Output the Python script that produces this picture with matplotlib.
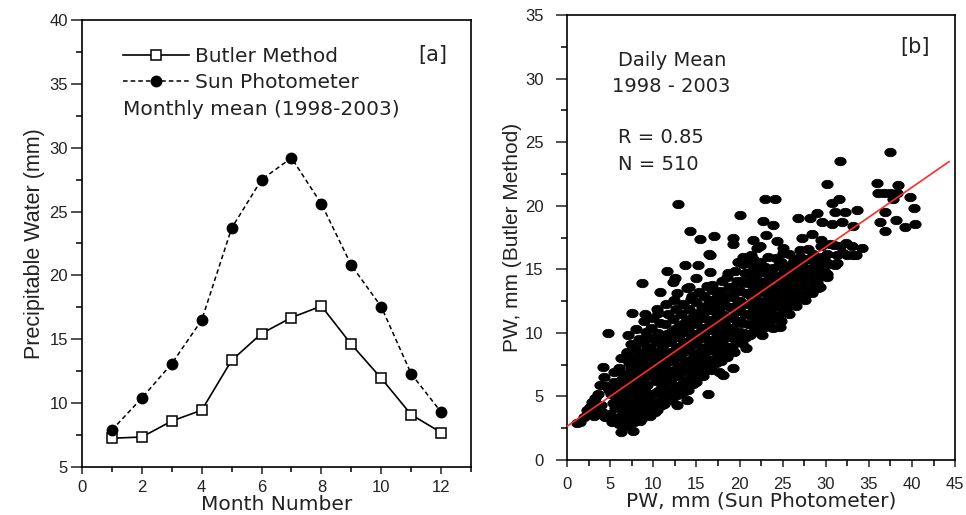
import numpy as np
import matplotlib
matplotlib.use("Agg")
import matplotlib.pyplot as plt
from matplotlib.ticker import MultipleLocator

plt.rcParams['font.family'] = ['Liberation Sans', 'DejaVu Sans']

# ---- panel [a]: monthly means ----
months = [1, 2, 3, 4, 5, 6, 7, 8, 9, 10, 11, 12]
butler_monthly = [7.25, 7.35, 8.6, 9.45, 13.35, 15.45, 16.7, 17.6, 14.6, 11.95, 9.1, 7.7]
sun_monthly = [7.9, 10.4, 13.1, 16.5, 23.7, 27.5, 29.2, 25.6, 20.8, 17.55, 12.3, 9.3]

# ---- panel [b]: daily means (sun photometer, butler method) ----
core_pts = [
    (2.0, 3.4), (2.7, 4.2), (3.1, 3.5), (3.3, 4.9), (3.9, 4.3), (3.8, 5.9), (4.3, 6.5), (4.1, 3.8),
    (5.0, 3.6), (5.3, 4.5), (5.1, 5.2), (5.5, 6.1), (5.4, 6.9), (5.2, 3.0),
    (6.0, 2.8), (6.2, 3.5), (5.9, 4.2), (6.3, 4.9), (6.1, 5.7), (6.4, 6.4), (6.0, 7.2), (6.3, 8.0),
    (6.9, 2.7), (7.0, 3.3), (7.2, 4.0), (6.8, 4.6), (7.1, 5.4), (7.3, 6.1), (6.9, 6.8), (7.2, 7.6),
    (7.0, 8.4), (7.4, 9.1),
    (7.8, 3.0), (8.0, 3.7), (7.7, 4.4), (8.1, 5.0), (7.9, 5.9), (8.2, 6.5), (7.8, 7.3), (8.1, 8.0),
    (7.9, 8.8), (8.3, 9.5), (8.0, 10.3),
    (8.7, 3.3), (8.9, 4.0), (8.6, 4.8), (9.0, 5.4), (8.8, 6.3), (9.1, 7.0), (8.7, 7.7), (9.0, 8.5),
    (8.8, 9.3), (9.2, 10.1), (8.9, 10.9),
    (9.6, 3.6), (9.8, 4.3), (9.5, 5.0), (9.9, 6.6), (9.7, 7.3), (10.0, 8.0), (9.6, 8.8), (9.9, 9.6),
    (9.7, 10.4), (10.0, 11.2),
    (10.4, 3.9), (10.7, 4.6), (10.5, 5.4), (10.8, 6.1), (10.4, 6.9), (10.7, 7.6), (10.5, 8.4),
    (10.9, 9.2), (10.6, 10.0), (10.8, 10.8), (10.5, 11.6),
    (11.3, 4.4), (11.5, 5.3), (11.2, 6.0), (11.6, 6.8), (11.4, 7.5), (11.7, 8.3), (11.3, 9.1),
    (11.6, 9.9), (11.4, 10.7), (11.7, 11.5), (11.5, 12.3),
    (12.2, 4.8), (12.4, 5.6), (12.1, 6.4), (12.5, 7.1), (12.3, 7.9), (12.6, 8.7), (12.2, 9.5),
    (12.5, 10.3), (12.3, 11.1), (12.6, 11.9), (12.4, 12.6),
    (13.1, 5.2), (13.3, 6.0), (13.0, 6.8), (13.4, 7.5), (13.2, 8.3), (13.5, 9.1), (13.1, 9.9),
    (13.4, 10.7), (13.2, 11.5), (13.5, 12.3),
    (14.0, 5.5), (14.2, 6.4), (13.9, 7.2), (14.3, 7.9), (14.1, 8.7), (14.4, 9.5), (14.0, 10.3),
    (14.3, 11.1), (14.1, 11.9), (14.4, 12.7), (14.2, 13.6),
    (14.9, 6.1), (15.1, 6.9), (14.8, 7.7), (15.2, 8.4), (15.0, 9.2), (15.3, 10.0), (14.9, 10.8),
    (15.2, 11.6), (15.0, 12.4), (15.3, 13.2),
    (15.8, 6.6), (16.0, 7.4), (15.7, 8.2), (16.1, 8.9), (15.9, 9.7), (16.2, 10.5), (15.8, 11.3),
    (16.1, 12.1), (15.9, 12.9), (16.2, 13.7),
    (16.7, 7.1), (16.9, 7.9), (16.6, 8.7), (17.0, 9.4), (16.8, 10.2), (17.1, 11.0), (16.7, 11.8),
    (17.0, 12.6), (16.8, 13.4),
    (17.6, 6.9), (17.8, 7.8), (17.5, 8.6), (17.9, 9.3), (17.7, 10.1), (18.0, 10.9), (17.6, 11.7),
    (17.9, 12.5), (17.7, 13.3), (18.0, 14.1),
    (18.5, 8.1), (18.7, 8.9), (18.4, 9.7), (18.8, 10.4), (18.6, 11.2), (18.9, 12.0), (18.5, 12.8),
    (18.8, 13.6), (18.6, 14.4),
    (19.4, 8.5), (19.6, 9.4), (19.3, 10.2), (19.7, 10.9), (19.5, 11.7), (19.8, 12.5), (19.4, 13.3),
    (19.7, 14.1), (19.5, 14.9), (19.8, 15.6),
    (20.3, 9.2), (20.5, 10.0), (20.2, 10.8), (20.6, 11.5), (20.4, 12.3), (20.7, 13.1), (20.3, 13.9),
    (20.6, 14.7), (20.4, 15.4),
    (21.2, 9.8), (21.4, 10.6), (21.1, 11.4), (21.5, 12.1), (21.3, 12.9), (21.6, 13.7), (21.2, 14.5),
    (21.5, 15.3), (21.3, 16.1),
    (22.1, 10.1), (22.3, 10.9), (22.0, 11.7), (22.4, 12.4), (22.2, 13.2), (22.5, 14.0), (22.1, 14.8),
    (22.4, 15.6),
    (23.0, 10.5), (23.2, 11.3), (22.9, 12.1), (23.3, 12.8), (23.1, 13.6), (23.4, 14.4), (23.0, 15.2),
    (23.3, 16.0),
    (23.9, 10.4), (24.1, 11.2), (23.8, 12.0), (24.2, 12.7), (24.0, 13.5), (24.3, 14.3), (23.9, 15.1),
    (24.2, 15.9),
    (24.8, 10.9), (25.0, 11.7), (24.7, 12.5), (25.1, 13.2), (24.9, 14.0), (25.2, 14.8), (24.8, 15.6),
    (25.1, 16.3),
    (25.7, 11.5), (25.9, 12.3), (25.6, 13.1), (26.0, 13.8), (25.8, 14.6), (26.1, 15.4), (25.7, 16.2),
    (26.6, 12.1), (26.8, 12.9), (26.5, 13.7), (26.9, 14.4), (26.7, 15.2), (27.0, 16.0),
    (27.5, 12.7), (27.7, 13.5), (27.4, 14.3), (27.8, 15.0), (27.6, 15.8), (27.9, 16.6),
    (28.4, 13.1), (28.6, 13.9), (28.3, 14.7), (28.7, 15.4), (28.5, 16.2),
    (29.3, 13.6), (29.5, 14.5), (29.2, 15.3), (29.6, 16.0), (29.4, 16.8),
    (30.2, 14.6), (30.4, 15.4), (30.1, 16.2), (30.5, 17.0),
    (31.1, 15.3), (31.3, 16.1), (31.0, 16.9),
    (32.0, 16.3), (32.3, 17.1), (33.0, 16.8),
]

# points sitting between the columns above, in the densest part of the band
fill_pts = [
    (5.6, 3.3), (5.6, 4.1), (5.7, 4.9), (5.6, 5.6),
    (6.5, 3.1), (6.6, 3.8), (6.5, 4.5), (6.6, 5.3), (6.5, 6.0), (6.6, 6.8),
    (7.4, 3.0), (7.5, 3.7), (7.4, 4.4), (7.5, 5.1), (7.4, 5.8), (7.5, 6.5), (7.4, 7.2), (7.5, 8.0),
    (8.3, 3.4), (8.4, 4.2), (8.3, 4.9), (8.4, 5.6), (8.3, 6.3), (8.4, 7.0), (8.3, 7.7), (8.4, 8.4),
    (9.2, 3.7), (9.3, 4.5), (9.2, 5.2), (9.3, 5.9), (9.2, 6.7), (9.3, 7.4), (9.2, 8.1), (9.3, 8.9),
    (9.2, 9.6),
    (10.2, 3.8), (10.3, 4.6), (10.2, 5.3), (10.3, 6.2), (10.2, 7.0), (10.3, 7.7), (10.2, 8.5),
    (10.3, 9.3),
    (11.0, 4.3), (11.1, 5.0), (11.0, 5.8), (11.1, 6.5), (11.0, 7.2), (11.1, 8.0), (11.0, 8.8),
    (11.1, 9.6),
    (11.9, 4.7), (12.0, 5.5), (11.9, 6.2), (12.0, 7.0), (11.9, 7.8), (12.0, 8.5), (11.9, 9.3),
    (12.0, 10.1),
    (12.8, 5.1), (12.9, 5.8), (12.8, 6.6), (12.9, 7.3), (12.8, 8.1), (12.9, 8.9), (12.8, 9.7),
    (12.9, 10.5),
    (13.7, 5.4), (13.8, 6.2), (13.7, 7.0), (13.8, 7.8), (13.7, 8.6), (13.8, 9.3), (13.7, 10.1),
    (13.8, 10.9),
    (14.6, 6.0), (14.7, 6.8), (14.6, 7.5), (14.7, 8.3), (14.6, 9.1), (14.7, 9.9), (14.6, 10.7),
    (14.7, 11.5),
    (15.5, 6.6), (15.6, 7.3), (15.5, 8.0), (15.6, 8.8), (15.5, 9.6), (15.6, 10.4), (15.5, 11.2),
    (15.6, 12.0),
    (16.4, 7.2), (16.5, 7.9), (16.4, 8.6), (16.5, 9.4), (16.4, 10.2), (16.5, 11.0), (16.4, 11.8),
    (16.5, 12.6),
    (17.3, 7.6), (17.4, 8.4), (17.3, 9.1), (17.4, 9.9), (17.3, 10.7), (17.4, 11.5), (17.3, 12.3),
    (17.4, 13.1),
    (18.2, 8.3), (18.3, 9.0), (18.2, 9.8), (18.3, 10.6), (18.2, 11.4), (18.3, 12.2), (18.2, 13.0),
    (19.1, 8.9), (19.2, 9.6), (19.1, 10.4), (19.2, 11.2), (19.1, 12.0), (19.2, 12.8), (19.1, 13.6),
    (20.0, 9.3), (20.1, 10.1), (20.0, 10.9), (20.1, 11.7), (20.0, 12.5), (20.1, 13.3), (20.0, 14.1),
    (20.9, 9.9), (21.0, 10.7), (20.9, 11.5), (21.0, 12.3), (20.9, 13.1), (21.0, 13.9), (20.9, 14.7),
    (21.8, 10.3), (21.9, 11.1), (21.8, 11.9), (21.9, 12.7), (21.8, 13.5), (21.9, 14.3), (21.8, 15.1),
    (22.7, 10.8), (22.8, 11.6), (22.7, 12.4), (22.8, 13.2), (22.7, 14.0), (22.8, 14.8),
    (23.6, 11.0), (23.7, 11.8), (23.6, 12.6), (23.7, 13.4), (23.6, 14.2), (23.7, 15.0),
    (24.5, 11.3), (24.6, 12.1), (24.5, 12.9), (24.6, 13.7), (24.5, 14.5), (24.6, 15.3),
    (25.4, 11.9), (25.5, 12.7), (25.4, 13.5), (25.5, 14.3), (25.4, 15.1),
    (26.3, 12.5), (26.4, 13.3), (26.3, 14.1), (26.4, 14.9), (26.3, 15.7),
    (27.2, 13.0), (27.3, 13.8), (27.2, 14.6), (27.3, 15.4),
    (28.1, 13.4), (28.2, 14.2), (28.1, 15.0), (28.2, 15.8),
    (29.0, 14.0), (29.1, 14.8), (29.0, 15.6),
    (29.9, 14.8), (30.0, 15.6),
]

lower_pts = [
    (1.1, 2.9), (1.5, 3.0), (2.3, 3.9), (2.85, 4.6), (3.4, 3.9), (3.6, 5.2), (4.2, 7.3),
    (4.8, 10.0), (4.5, 5.8), (4.9, 5.5), (4.4, 3.4), (6.3, 2.2), (7.7, 2.3), (7.5, 11.6),
    (8.7, 13.9), (7.1, 9.8), (6.9, 8.5), (9.0, 11.5), (10.4, 11.9), (10.8, 13.2), (12.7, 13.1),
    (12.3, 14.0), (11.6, 14.9), (13.7, 15.3), (15.2, 15.3), (16.6, 16.1), (16.6, 14.8),
    (16.4, 5.2), (19.3, 7.2), (18.1, 6.7), (20.8, 8.8), (20.8, 9.7), (22.6, 9.8), (24.7, 10.5),
    (26.1, 12.2), (27.6, 12.6), (29.1, 13.5), (30.1, 14.4), (31.3, 15.5), (33.2, 16.1),
    (13.9, 4.7), (12.7, 4.3), (11.2, 4.5), (9.6, 3.5), (8.5, 3.1), (12.5, 14.3), (13.9, 13.5),
    (15.0, 14.3), (16.8, 13.8), (18.7, 14.7), (20.8, 15.5), (21.6, 15.8), (14.5, 12.9),
]

upper_pts = [
    (12.9, 20.1), (14.3, 18.0), (15.4, 17.4), (17.0, 17.6), (16.5, 16.2), (20.1, 19.3),
    (19.3, 17.5), (19.2, 17.0), (20.4, 16.0), (21.6, 17.3), (22.0, 16.7), (23.0, 20.5),
    (24.1, 20.5), (22.7, 18.8), (23.9, 18.5), (23.1, 17.7), (22.4, 16.8), (24.3, 17.2),
    (25.1, 16.7), (26.8, 19.0), (27.2, 17.5), (27.0, 16.5), (28.4, 17.8), (29.0, 19.4),
    (28.2, 19.0), (29.6, 18.7), (30.1, 21.7), (30.7, 20.2), (31.5, 20.5), (31.7, 23.5),
    (31.1, 19.5), (32.2, 19.5), (30.7, 18.6), (31.9, 18.7), (33.6, 19.7), (33.2, 18.4),
    (34.2, 16.7), (32.5, 16.1), (33.5, 16.1), (31.7, 16.8), (29.5, 17.3), (35.9, 21.8),
    (36.1, 21.0), (36.8, 21.0), (37.5, 21.0), (38.3, 21.0), (37.5, 24.2), (38.4, 21.6),
    (36.9, 19.5), (36.3, 18.7), (36.9, 18.0), (38.1, 18.9), (39.2, 18.3), (39.8, 20.7),
    (40.2, 19.8), (40.4, 18.6), (37.8, 20.5),
]

# regression line: Butler = a + b * Sun
fit_intercept = 2.65
fit_slope = 0.47
fit_x = [0.0, 44.3]

fig = plt.figure(figsize=(9.66, 5.15), dpi=100)
txt = '#222222'
wide = ['DejaVu Sans']   # the original text is letter-spaced, a wider face gets closer

# ---------- panel a ----------
ax1 = fig.add_axes([0.0849, 0.0932, 0.4027, 0.868])
ax1.plot(months, butler_monthly, color='black', lw=1.2, marker='s', ms=7.5,
         mfc='white', mec='black', mew=1.1, label='Butler Method', zorder=3)
ax1.plot(months, sun_monthly, color='black', lw=1.1, ls=(0, (3, 2)), marker='o', ms=7.5,
         mfc='black', mec='black', label='Sun Photometer', zorder=3)
ax1.set_xlim(0, 13)
ax1.set_ylim(5, 40)
ax1.xaxis.set_major_locator(MultipleLocator(2))
ax1.xaxis.set_minor_locator(MultipleLocator(1))
ax1.yaxis.set_major_locator(MultipleLocator(5))
ax1.yaxis.set_minor_locator(MultipleLocator(2.5))
ax1.tick_params(axis='x', which='major', direction='out', length=5, width=1.1, labelsize=12, pad=4, colors=txt)
ax1.tick_params(axis='x', which='minor', direction='out', length=3.5, width=1.1)
ax1.tick_params(axis='y', which='major', direction='out', length=8, width=1.1, labelsize=12, pad=2, colors=txt)
ax1.tick_params(axis='y', which='minor', direction='out', length=4.5, width=1.1)
ax1.set_xlabel('Month Number', fontsize=14.5, color=txt, labelpad=0, family=wide)
ax1.set_ylabel('Precipitable Water (mm)', fontsize=15.5, color=txt, labelpad=3)
for s in ax1.spines.values():
    s.set_linewidth(1.2)
leg = ax1.legend(loc='upper left', bbox_to_anchor=(0.105, 0.94), frameon=False,
                 prop={'family': wide, 'size': 14.5},
                 handlelength=3.3, handletextpad=0.3, borderpad=0, borderaxespad=0, labelspacing=0.36)
for t in leg.get_texts():
    t.set_color(txt)
ax1.text(0.105, 0.80, 'Monthly mean (1998-2003)', transform=ax1.transAxes, fontsize=14.5,
         color=txt, ha='left', va='center', family=wide)
ax1.text(0.938, 0.922, '[a]', transform=ax1.transAxes, fontsize=15, color=txt, ha='right', va='center',
         family=wide)

# ---------- panel b ----------
ax2 = fig.add_axes([0.587, 0.1068, 0.4017, 0.864])
all_pts = core_pts + fill_pts + lower_pts + upper_pts
sun_pw = np.array([p[0] for p in all_pts])
butler_pw = np.array([p[1] for p in all_pts])
# flat blob marker, wider than tall like the original dots
t = np.linspace(0, 2 * np.pi, 25)
blob = np.column_stack([np.cos(t), 0.74 * np.sin(t)])
ax2.plot(sun_pw, butler_pw, ls='none', marker=blob, ms=8.2, mfc='black', mec='black', mew=0.6, zorder=2)
fx = np.array(fit_x)
ax2.plot(fx, fit_intercept + fit_slope * fx, color='#ff2a2a', lw=1.2, zorder=3)
ax2.set_xlim(0, 45)
ax2.set_ylim(0, 35)
ax2.xaxis.set_major_locator(MultipleLocator(5))
ax2.xaxis.set_minor_locator(MultipleLocator(2.5))
ax2.yaxis.set_major_locator(MultipleLocator(5))
ax2.yaxis.set_minor_locator(MultipleLocator(2.5))
ax2.tick_params(axis='x', which='major', direction='out', length=5, width=1.1, labelsize=12, pad=7, colors=txt)
ax2.tick_params(axis='x', which='minor', direction='out', length=4, width=1.1)
ax2.tick_params(axis='y', which='major', direction='out', length=8, width=1.1, labelsize=12, pad=9, colors=txt)
ax2.tick_params(axis='y', which='minor', direction='out', length=4.5, width=1.1)
ax2.set_xlabel('PW, mm (Sun Photometer)', fontsize=14.5, color=txt, labelpad=0, family=wide)
ax2.set_ylabel('PW, mm (Butler Method)', fontsize=15, color=txt, labelpad=2)
for s in ax2.spines.values():
    s.set_linewidth(1.2)
ax2.text(0.271, 0.897, 'Daily Mean', transform=ax2.transAxes, fontsize=14, color=txt, ha='center',
         va='center', family=wide)
ax2.text(0.268, 0.840, '1998 - 2003', transform=ax2.transAxes, fontsize=14, color=txt, ha='center',
         va='center', family=wide)
ax2.text(0.131, 0.724, 'R = 0.85', transform=ax2.transAxes, fontsize=14, color=txt, ha='left',
         va='center', family=wide)
ax2.text(0.131, 0.663, 'N = 510', transform=ax2.transAxes, fontsize=14, color=txt, ha='left',
         va='center', family=wide)
ax2.text(0.936, 0.928, '[b]', transform=ax2.transAxes, fontsize=15, color=txt, ha='right', va='center',
         family=wide)

fig.savefig('out.png', dpi=100)
